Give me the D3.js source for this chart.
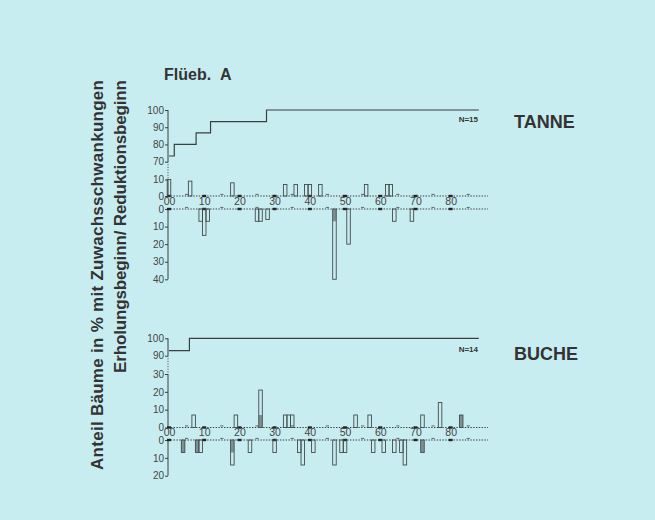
<!DOCTYPE html>
<html><head><meta charset="utf-8">
<script src="https://cdn.jsdelivr.net/npm/d3@7"></script>
<style>
html,body{margin:0;padding:0;background:#c8edf1;}
svg{display:block;font-family:"Liberation Sans",Arial,Helvetica,sans-serif;}
</style></head>
<body><svg id="c" width="655" height="520"></svg>
<script>
// ---------- DATA ----------
const xTickYears = [0,10,20,30,40,50,60,70,80];
// Tanne: cumulative share of trees (step line)
const tanneStepYears = [0, 1.5, 7.7, 11.8, 27.7, 88];
const tanneStepVals  = [73.3, 80, 86.7, 93.3, 100, 100];
// Tanne: Erholungsbeginn (upward bars)
const tanneUpYears = [0, 6, 18, 33, 36, 39, 40, 43, 56, 62, 63];
const tanneUpVals  = [10, 9, 8, 7, 7, 7, 7, 7, 7, 7, 7];
const tanneUpShaded = [0,0,0,0,0,0,0,0,0,0,0];
// Tanne: Reduktionsbeginn (downward bars)
const tanneDownYears = [9, 10, 11, 25, 26, 28, 47, 51, 64, 69];
const tanneDownVals  = [7, 15, 7, 7, 7, 6, 40, 20, 7, 7];
const tanneDownShaded = [0,0,0,0,0,0,7,0,0,0];
// Buche
const bucheStepYears = [0, 5.8, 88];
const bucheStepVals  = [92.9, 100, 100];
const bucheUpYears = [7, 19, 26, 33, 34, 35, 53, 57, 72, 77, 83];
const bucheUpVals  = [7, 7, 21, 7, 7, 7, 7, 7, 7, 14, 7];
const bucheUpShaded = [0,0,7,0,0,0,0,0,0,0,7];
const bucheDownYears = [4, 8, 9, 18, 23, 30, 37, 38, 41, 47, 49, 50, 58, 61, 64, 66, 67, 72];
const bucheDownVals  = [7, 7, 7, 14, 7, 7, 7, 14, 7, 14, 7, 7, 7, 7, 7, 7, 14, 7];
const bucheDownShaded = [7,7,0,7,0,0,0,0,0,0,0,0,0,0,0,0,0,7];
const tanneTopTicks = [70,80,90,100];
const tanneUpTicks = [0,10];
const tanneDownTicks = [0,10,20,30,40];
const bucheTopTicks = [90,100];
const bucheUpTicks = [0,10,20,30];
const bucheDownTicks = [0,10,20];

// ---------- DRAW ----------
const svg = d3.select("#c");
const INK = "#3a3f40", SHADE = "#7d9294";
const axisX = 168;
const x = d3.scaleLinear().domain([0, 88]).range([169, 478.8]);
const bw = x(1) - x(0);

function yAxis(scale, ticks) {
  const g = svg.append("g").attr("transform", `translate(${axisX},0)`)
    .call(d3.axisLeft(scale).tickValues(ticks).tickSize(3).tickPadding(1));
  g.select(".domain").remove();
  g.selectAll(".tick line").attr("stroke", INK);
  g.selectAll(".tick text").attr("fill", "#444").style("font-size", "10px")
    .style("font-family", "'Liberation Sans',Arial,sans-serif");
  const d = scale.domain();
  svg.append("line").attr("x1", axisX).attr("x2", axisX)
    .attr("y1", scale(d[0])).attr("y2", scale(d[1]))
    .attr("stroke", INK).attr("stroke-width", 1);
}
function dottedV(y1, y2) {
  svg.append("line").attr("x1", axisX).attr("x2", axisX).attr("y1", y1).attr("y2", y2)
    .attr("stroke", INK).attr("stroke-width", 1).attr("stroke-dasharray", "1,1.6");
}
function baseline(y) {
  svg.append("line").attr("x1", axisX).attr("x2", 488).attr("y1", y).attr("y2", y)
    .attr("stroke", INK).attr("stroke-width", 1).attr("stroke-dasharray", "1.4,1.4");
  svg.append("g").selectAll("rect").data(xTickYears).join("rect")
    .attr("x", d => x(d) - 2).attr("y", y - 1.2).attr("width", 4).attr("height", 2.4)
    .attr("fill", "#222");
  svg.append("g").selectAll("line").data(xTickYears.map(d => d + 5)).join("line")
    .attr("x1", d => x(d) - 1.6).attr("x2", d => x(d) + 1.6)
    .attr("y1", y - 1.6).attr("y2", y - 1.6).attr("stroke", "#555").attr("stroke-width", 0.9);
}
function xLabels(y) {
  const g = svg.append("g").attr("transform", `translate(0,${y})`)
    .call(d3.axisBottom(x).tickValues(xTickYears).tickSize(0).tickPadding(1.5)
      .tickFormat(d3.format("02d")));
  g.select(".domain").remove();
  g.selectAll(".tick text").attr("fill", "#444").style("font-size", "10.5px")
    .style("font-family", "'Liberation Sans',Arial,sans-serif");
}
function bars(years, vals, shaded, scale) {
  const data = years.map((y, i) => ({year: y, v: vals[i], s: shaded[i]}));
  const y0 = scale(0);
  const g = svg.append("g");
  g.selectAll("rect.s").data(data.filter(d => d.s > 0)).join("rect")
    .attr("x", d => x(d.year - 0.5)).attr("width", bw)
    .attr("y", d => Math.min(scale(d.s), y0)).attr("height", d => Math.abs(scale(d.s) - y0))
    .attr("fill", SHADE);
  g.selectAll("rect.b").data(data).join("rect")
    .attr("x", d => x(d.year - 0.5)).attr("width", bw)
    .attr("y", d => Math.min(scale(d.v), y0)).attr("height", d => Math.abs(scale(d.v) - y0))
    .attr("fill", "none").attr("stroke", "#444a4b").attr("stroke-width", 0.9);
}
function stepLine(years, vals, scale) {
  const pts = years.map((y, i) => [y, vals[i]]);
  svg.append("path").datum(pts)
    .attr("d", d3.line().x(d => x(d[0])).y(d => scale(d[1])).curve(d3.curveStepAfter))
    .attr("fill", "none").attr("stroke", INK).attr("stroke-width", 1.2);
}

// Tanne scales
const yTtop = d3.scaleLinear().domain([70, 100]).range([161.7, 110]);
const yTup = d3.scaleLinear().domain([0, 10]).range([196, 179.5]);
const yTdn = d3.scaleLinear().domain([0, 40]).range([209, 279.3]);
// Buche scales
const yBtop = d3.scaleLinear().domain([90, 100]).range([355.7, 338.3]);
const yBup = d3.scaleLinear().domain([0, 30]).range([427.5, 374]);
const yBdn = d3.scaleLinear().domain([0, 20]).range([440, 475.7]);

// Tanne panel
yAxis(yTtop, tanneTopTicks); dottedV(yTtop(70), yTup(10));
yAxis(yTup, tanneUpTicks); yAxis(yTdn, tanneDownTicks);
baseline(yTup(0)); baseline(yTdn(0)); xLabels(yTup(0));
bars(tanneUpYears, tanneUpVals, tanneUpShaded, yTup);
bars(tanneDownYears, tanneDownVals, tanneDownShaded, yTdn);
stepLine(tanneStepYears, tanneStepVals, yTtop);

// Buche panel
yAxis(yBtop, bucheTopTicks); dottedV(yBtop(90), yBup(30));
yAxis(yBup, bucheUpTicks); yAxis(yBdn, bucheDownTicks);
baseline(yBup(0)); baseline(yBdn(0)); xLabels(yBup(0));
bars(bucheUpYears, bucheUpVals, bucheUpShaded, yBup);
bars(bucheDownYears, bucheDownVals, bucheDownShaded, yBdn);
stepLine(bucheStepYears, bucheStepVals, yBtop);

// Texts
svg.append("text").attr("x", 478).attr("y", 122).attr("text-anchor", "end")
  .attr("font-size", 8).attr("font-weight", "bold").attr("fill", "#333").text("N=15");
svg.append("text").attr("x", 478).attr("y", 352).attr("text-anchor", "end")
  .attr("font-size", 8).attr("font-weight", "bold").attr("fill", "#333").text("N=14");
svg.append("text").attr("x", 514).attr("y", 128)
  .attr("font-size", 18).attr("font-weight", "bold").attr("fill", "#333").text("TANNE");
svg.append("text").attr("x", 514).attr("y", 360)
  .attr("font-size", 18).attr("font-weight", "bold").attr("fill", "#333").text("BUCHE");
svg.append("text").attr("x", 164).attr("y", 80)
  .attr("font-size", 16).attr("font-weight", "bold").attr("fill", "#333")
  .attr("word-spacing", 5).text("Flüeb. A");
svg.append("text").attr("transform", "translate(103,80) rotate(-90)")
  .attr("text-anchor", "end").attr("font-size", 17).attr("font-weight", "bold")
  .attr("fill", "#333").attr("textLength", 390).attr("lengthAdjust", "spacing")
  .text("Anteil Bäume in % mit Zuwachsschwankungen");
svg.append("text").attr("transform", "translate(126,80) rotate(-90)")
  .attr("text-anchor", "end").attr("font-size", 17).attr("font-weight", "bold")
  .attr("fill", "#333").attr("textLength", 293).attr("lengthAdjust", "spacing")
  .text("Erholungsbeginn/ Reduktionsbeginn");
</script></body></html>
